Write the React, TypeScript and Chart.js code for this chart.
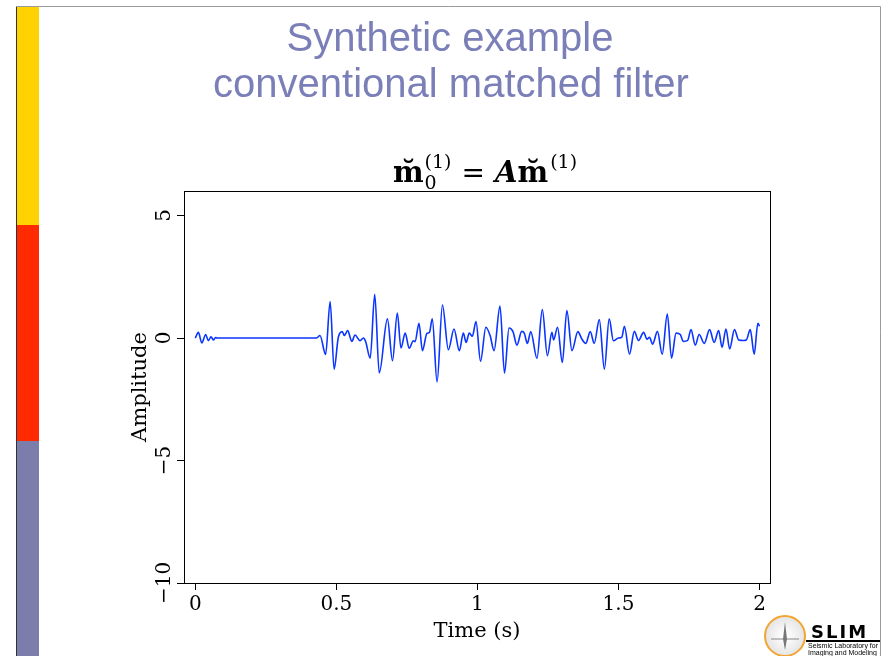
import React, { useEffect, useRef } from 'react';
import { Chart, registerables } from 'chart.js';

Chart.register(...registerables);

// ---- data ----
const times: number[] = [
  0.0, 0.011, 0.023, 0.037, 0.046, 0.056, 0.064, 0.072, 0.077, 0.43,
  0.442, 0.462, 0.478, 0.492, 0.507, 0.521, 0.528, 0.54, 0.555, 0.566,
  0.584, 0.596, 0.604, 0.62, 0.636, 0.652, 0.681, 0.699, 0.716, 0.729,
  0.744, 0.758, 0.773, 0.779, 0.793, 0.805, 0.821, 0.83, 0.84, 0.857,
  0.876, 0.897, 0.917, 0.936, 0.95, 0.96, 0.971, 0.982, 0.995, 1.011,
  1.03, 1.045, 1.059, 1.08, 1.096, 1.112, 1.126, 1.14, 1.157, 1.166,
  1.177, 1.189, 1.211, 1.23, 1.248, 1.264, 1.27, 1.284, 1.301, 1.317,
  1.335, 1.356, 1.37, 1.384, 1.4, 1.414, 1.432, 1.45, 1.467, 1.482,
  1.5, 1.512, 1.521, 1.539, 1.556, 1.571, 1.589, 1.601, 1.61, 1.621,
  1.638, 1.655, 1.673, 1.688, 1.704, 1.719, 1.73, 1.745, 1.757, 1.772,
  1.786, 1.804, 1.823, 1.839, 1.855, 1.867, 1.881, 1.894, 1.911, 1.926,
  1.943, 1.953, 1.967, 1.981, 1.994, 2.0,
];
const amplitudes: number[] = [
  0.0, 0.23, -0.2, 0.14, -0.11, 0.05, -0.08, 0.02, 0.0, 0.0,
  0.1, -0.67, 1.49, -1.27, 0.03, 0.26, 0.1, 0.3, -0.14, 0.12,
  -0.11, 0.0, -0.15, -0.82, 1.78, -1.43, 0.78, -0.93, 1.02, -0.41,
  0.2, -0.42, -0.11, -0.15, 0.6, -0.52, 0.19, 0.23, 0.78, -1.79,
  1.35, -0.48, 0.37, -0.52, 0.2, -0.18, 0.2, 0.07, 0.67, -0.95,
  0.44, 0.1, -0.52, 1.3, -1.43, 0.41, 0.26, -0.29, 0.27, 0.2,
  -0.22, 0.26, -0.83, 1.16, -0.72, 0.23, -0.08, 0.44, -1.0, 1.12,
  -0.52, 0.26, -0.04, -0.22, 0.26, -0.22, 0.75, -1.27, 0.78, -0.11,
  0.0, 0.04, 0.48, -0.66, 0.27, -0.1, 0.23, -0.05, 0.03, -0.25,
  0.27, -0.66, 0.98, -0.82, 0.2, 0.14, -0.14, -0.1, 0.34, -0.29,
  0.14, -0.22, 0.34, -0.18, 0.3, -0.38, 0.37, -0.45, 0.34, -0.08,
  -0.1, -0.08, 0.34, -0.66, 0.6, 0.48,
];
const xTicks: number[] = [0, 0.5, 1, 1.5, 2];
const yTicks: number[] = [-10, -5, 0, 5];
const xLabel = 'Time (s)';
const yLabel = 'Amplitude';
const slideTitle: string[] = ['Synthetic example', 'conventional matched filter'];
const logoName = 'SLIM';
const logoLines: string[] = ['Seismic Laboratory for', 'Imaging and Modeling'];

const SERIF = '"DejaVu Serif", serif';

const fmt = (v: number) => (v < 0 ? '\u2212' + String(Math.abs(v)) : String(v));

const decorations = {
  id: 'decorations',
  beforeDraw(chart: any) {
    const ctx: CanvasRenderingContext2D = chart.ctx;
    ctx.save();
    ctx.fillStyle = '#ffffff';
    ctx.fillRect(0, 0, chart.width, chart.height);
    // left colour bar
    ctx.fillStyle = '#ffd200';
    ctx.fillRect(16, 6, 23, 219);
    ctx.fillStyle = '#ff2a00';
    ctx.fillRect(16, 225, 23, 216);
    ctx.fillStyle = '#7b7dab';
    ctx.fillRect(16, 441, 23, 215);
    ctx.strokeStyle = '#333';
    ctx.lineWidth = 1;
    ctx.beginPath();
    ctx.moveTo(16.5, 6);
    ctx.lineTo(16.5, 656);
    ctx.stroke();
    ctx.strokeStyle = '#9a9a9a';
    ctx.beginPath();
    ctx.moveTo(16, 6.5);
    ctx.lineTo(880.5, 6.5);
    ctx.lineTo(880.5, 656);
    ctx.stroke();
    // slide title
    ctx.fillStyle = '#7b7fb8';
    ctx.font = '40px "Liberation Sans", Arial, sans-serif';
    ctx.textAlign = 'center';
    ctx.textBaseline = 'alphabetic';
    ctx.fillText(slideTitle[0], 450, 51);
    ctx.fillText(slideTitle[1], 451, 97);
    // logo
    const cx = 785, cy = 636, r = 20;
    const g = ctx.createRadialGradient(cx, cy, 2, cx, cy, r);
    g.addColorStop(0, '#ffffff');
    g.addColorStop(1, '#e4e4e4');
    ctx.fillStyle = g;
    ctx.beginPath();
    ctx.arc(cx, cy, r, 0, Math.PI * 2);
    ctx.fill();
    ctx.strokeStyle = '#f2a530';
    ctx.lineWidth = 2;
    ctx.stroke();
    ctx.strokeStyle = '#888';
    ctx.lineWidth = 1;
    ctx.beginPath();
    ctx.moveTo(cx - 14, cy + 3);
    ctx.lineTo(cx + 14, cy + 3);
    ctx.stroke();
    ctx.fillStyle = '#777';
    ctx.beginPath();
    ctx.moveTo(cx, cy - 14);
    ctx.lineTo(cx + 2, cy + 3);
    ctx.lineTo(cx, cy + 14);
    ctx.lineTo(cx - 2, cy + 3);
    ctx.closePath();
    ctx.fill();
    ctx.fillStyle = '#000';
    ctx.font = 'bold 18px "DejaVu Sans", sans-serif';
    ctx.textAlign = 'left';
    (ctx as any).letterSpacing = '2px';
    ctx.fillText(logoName, 811, 638);
    (ctx as any).letterSpacing = '0px';
    ctx.fillRect(806, 640, 74, 2);
    ctx.font = '7px "Liberation Sans", Arial, sans-serif';
    ctx.fillText(logoLines[0], 808, 648);
    ctx.fillText(logoLines[1], 808, 655);
    ctx.restore();
  },
  afterDraw(chart: any) {
    const ctx: CanvasRenderingContext2D = chart.ctx;
    const a = chart.chartArea;
    const ys = chart.scales.y;
    ctx.save();
    // box
    ctx.strokeStyle = '#000';
    ctx.lineWidth = 1;
    ctx.strokeRect(Math.round(a.left) + 0.5, Math.round(a.top) + 0.5, Math.round(a.right - a.left), Math.round(a.bottom - a.top));
    ctx.fillStyle = '#000';
    // y tick labels (rotated, R style)
    ctx.font = '20px ' + SERIF;
    ctx.textAlign = 'center';
    ctx.textBaseline = 'alphabetic';
    for (const v of yTicks) {
      const y = ys.getPixelForValue(v);
      ctx.save();
      ctx.translate(a.left - 14, y);
      ctx.rotate(-Math.PI / 2);
      ctx.fillText(fmt(v), 0, 0);
      ctx.restore();
    }
    // axis titles
    ctx.font = '21px ' + SERIF;
    ctx.save();
    ctx.translate(a.left - 38, (a.top + a.bottom) / 2);
    ctx.rotate(-Math.PI / 2);
    ctx.fillText(yLabel, 0, 0);
    ctx.restore();
    ctx.fillText(xLabel, (a.left + a.right) / 2, 637);
    // plot title (math)
    const big = 'bold 29px ' + SERIF;
    const bigR = '28px ' + SERIF;
    const bigA = 'bold italic 29px ' + SERIF;
    const small = '19px ' + SERIF;
    type Piece = { text: string; font: string; dy: number; gap?: number; stackWith?: { text: string; font: string; dy: number } };
    const pieces: Piece[] = [
      { text: 'm\u0306', font: big, dy: 0, gap: 1 },
      { text: '(1)', font: small, dy: -14, gap: 10, stackWith: { text: '0', font: small, dy: 7 } },
      { text: '=', font: bigR, dy: 0, gap: 10 },
      { text: 'A', font: bigA, dy: 0, gap: 0 },
      { text: 'm\u0306', font: big, dy: 0, gap: 2 },
      { text: '(1)', font: small, dy: -14 },
    ];
    const widthOf = (p: Piece) => {
      ctx.font = p.font;
      let w = ctx.measureText(p.text).width;
      if (p.stackWith) {
        ctx.font = p.stackWith.font;
        w = Math.max(w, ctx.measureText(p.stackWith.text).width);
      }
      return w + (p.gap || 0);
    };
    const total = pieces.reduce((s, p) => s + widthOf(p), 0);
    let x = (a.left + a.right) / 2 - total / 2 + 8;
    const base = 182;
    ctx.textAlign = 'left';
    for (const p of pieces) {
      const w = widthOf(p);
      ctx.font = p.font;
      ctx.fillText(p.text, x, base + p.dy);
      if (p.stackWith) {
        ctx.font = p.stackWith.font;
        ctx.fillText(p.stackWith.text, x, base + p.stackWith.dy);
      }
      x += w;
    }
    ctx.restore();
  },
};

export default function App() {
  const ref = useRef<HTMLCanvasElement>(null);
  useEffect(() => {
    document.body.style.margin = '0';
    const canvas = ref.current;
    if (!canvas) return;
    const chart = new Chart(canvas, {
      type: 'line',
      data: {
        datasets: [
          {
            data: times.map((t, i) => ({ x: t, y: amplitudes[i] })),
            borderColor: '#0a34ff',
            borderWidth: 1.6,
            pointRadius: 0,
            fill: false,
            cubicInterpolationMode: 'monotone',
          },
        ],
      },
      options: {
        responsive: false,
        animation: false,
        devicePixelRatio: 1,
        layout: { padding: { left: 144, right: 118, top: 191, bottom: 0 } },
        plugins: {
          legend: { display: false },
          tooltip: { enabled: false },
          title: { display: false },
        },
        scales: {
          x: {
            type: 'linear',
            min: -0.04,
            max: 2.037,
            afterBuildTicks: (s: any) => {
              s.ticks = xTicks.map((v) => ({ value: v }));
            },
            afterFit: (s: any) => {
              s.height = 73;
            },
            grid: { display: true, drawOnChartArea: false, drawTicks: true, tickLength: 7, color: '#000', lineWidth: 1 },
            border: { display: true, color: '#000', width: 1 },
            ticks: {
              color: '#000',
              font: { family: SERIF, size: 20 },
              padding: 3,
              maxRotation: 0,
              minRotation: 0,
              callback: (v: any) => fmt(Number(v)),
            },
          },
          y: {
            type: 'linear',
            min: -10,
            max: 6,
            afterBuildTicks: (s: any) => {
              s.ticks = yTicks.map((v) => ({ value: v }));
            },
            afterFit: (s: any) => {
              s.width = 40;
            },
            grid: { display: true, drawOnChartArea: false, drawTicks: true, tickLength: 7, color: '#000', lineWidth: 1 },
            border: { display: true, color: '#000', width: 1 },
            ticks: { display: true, color: 'rgba(0,0,0,0)', font: { size: 1 } },
          },
        },
      },
      plugins: [decorations],
    });
    return () => chart.destroy();
  }, []);
  return <canvas ref={ref} width={888} height={656} style={{ display: 'block' }} />;
}
